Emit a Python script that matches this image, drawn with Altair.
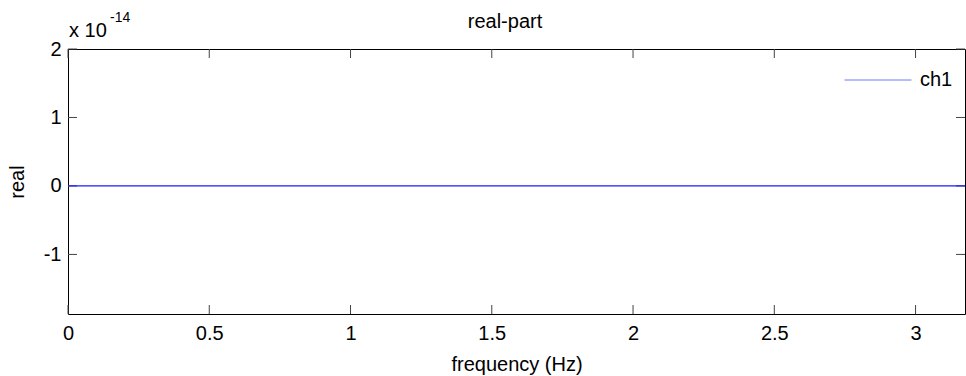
import altair as alt
import pandas as pd

# data (values in units of 1e-14)
freq = [0.0, 0.5, 1.0, 1.5, 2.0, 2.5, 3.0, 3.175]
real = [0.0, 0.0, 0.0, 0.0, 0.0, 0.0, 0.0, 0.0]
series = ["ch1"] * len(freq)
x_ticks = [0, 0.5, 1, 1.5, 2, 2.5, 3]
y_ticks = [-1, 0, 1, 2]
x_domain = [0, 3.175]
y_domain = [-1.87, 2]

W, H = 897, 265
FONT = "Liberation Sans"
FS = 20
LBL = "datum.value < 0 ? '-' + format(-datum.value, '') : format(datum.value, '')"

df = pd.DataFrame({"freq": freq, "real": real, "series": series})
xt = pd.DataFrame({"t": x_ticks})
yt = pd.DataFrame({"t": y_ticks})

xs = alt.Scale(domain=x_domain, nice=False, zero=False)
ys = alt.Scale(domain=y_domain, nice=False, zero=False)

tick_color = "#444444"
xb = alt.Chart(xt).mark_rule(color=tick_color, strokeWidth=1).encode(
    x=alt.X("t:Q", scale=xs), y=alt.value(H), y2=alt.value(H - 9))
xtop = alt.Chart(xt).mark_rule(color=tick_color, strokeWidth=1).encode(
    x=alt.X("t:Q", scale=xs), y=alt.value(0), y2=alt.value(9))
yl = alt.Chart(yt).mark_rule(color=tick_color, strokeWidth=1).encode(
    y=alt.Y("t:Q", scale=ys), x=alt.value(0), x2=alt.value(9))
yr = alt.Chart(yt).mark_rule(color=tick_color, strokeWidth=1).encode(
    y=alt.Y("t:Q", scale=ys), x=alt.value(W), x2=alt.value(W - 9))

line = alt.Chart(df).mark_line(strokeWidth=1.2, strokeOpacity=1).encode(
    x=alt.X("freq:Q", scale=xs,
            axis=alt.Axis(values=x_ticks, title="frequency (Hz)", tickSize=0, domain=False,
                          grid=False, labelPadding=9, titlePadding=11, labelFontSize=FS,
                          titleFontSize=FS, labelFont=FONT, titleFont=FONT, labelExpr=LBL,
                          labelColor="black", titleColor="black", titleFontWeight="normal",
                          labelFlush=False)),
    y=alt.Y("real:Q", scale=ys,
            axis=alt.Axis(values=y_ticks, title="real", tickSize=0, domain=False, grid=False,
                          labelPadding=7, titlePadding=16, labelFontSize=FS, titleFontSize=FS,
                          labelFont=FONT, titleFont=FONT, labelColor="black", labelExpr=LBL,
                          titleColor="black", titleFontWeight="normal", labelFlush=False)),
    color=alt.Color("series:N", scale=alt.Scale(domain=["ch1"], range=["#1a1aff"]),
                    legend=alt.Legend(title=None, orient="none", legendX=776, legendY=-3,
                                      symbolType="stroke", symbolSize=4489,
                                      symbolStrokeWidth=1, labelFontSize=FS, labelFont=FONT,
                                      labelColor="black", symbolOpacity=0.6,
                                      labelOffset=8)),
)

exp_base = alt.Chart(pd.DataFrame({"s": ["x 10"]})).mark_text(
    align="left", baseline="alphabetic", fontSize=FS, font=FONT, color="black").encode(
    text="s:N", x=alt.value(1), y=alt.value(-12))
exp_sup = alt.Chart(pd.DataFrame({"s": ["-14"]})).mark_text(
    align="left", baseline="alphabetic", fontSize=14, font=FONT, color="black").encode(
    text="s:N", x=alt.value(42), y=alt.value(-27))
title = alt.Chart(pd.DataFrame({"s": ["real-part"]})).mark_text(
    align="center", baseline="alphabetic", fontSize=FS, font=FONT, color="black").encode(
    text="s:N", x=alt.value(437), y=alt.value(-21))

chart = alt.layer(xb, xtop, yl, yr, line, exp_base, exp_sup, title).properties(
    width=W, height=H,
    autosize=alt.AutoSizeParams(type="none"),
    padding={"left": 68, "top": 49, "right": 1, "bottom": 62},
).configure(background="white").configure_view(stroke="black", strokeWidth=1)

chart.save("out.html", embed_options={"renderer": "svg", "actions": False})
